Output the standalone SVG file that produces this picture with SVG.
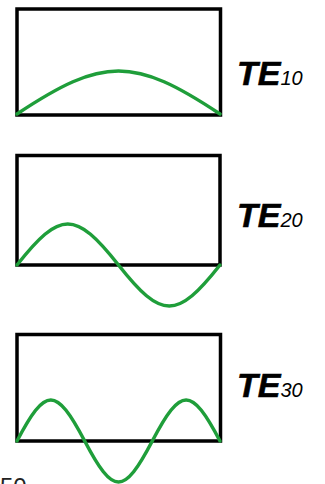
<svg xmlns="http://www.w3.org/2000/svg" width="325" height="484" viewBox="0 0 325 484">
<style>
.box{fill:none;stroke:#000;stroke-width:3.5}
.wave{fill:none;stroke:#1f9e3a;stroke-width:3.5;stroke-linecap:round}
.lbl{font-family:"Liberation Sans",Arial,sans-serif;font-style:italic;fill:#000}
.main{font-weight:bold;font-size:34px;stroke:#000;stroke-width:0.6}
.sub{font-weight:normal;font-size:20px}
</style>
<rect width="325" height="484" fill="#fff"/>
<g id="te10">
<rect class="box" x="17" y="9" width="203.5" height="106"/>
<path class="wave" d="M17,114 C103.2,56.7 133.8,56.7 220,114"/>
<text class="lbl" x="237" y="85"><tspan class="main">TE</tspan><tspan class="sub">10</tspan></text>
</g>
<g id="te20">
<rect class="box" x="17" y="155.5" width="203" height="109.5"/>
<path class="wave" d="M17,265 C60.1,210.3 75.4,210.3 118.5,265 C161.6,319.7 176.9,319.7 220,265"/>
<text class="lbl" x="237" y="227"><tspan class="main">TE</tspan><tspan class="sub">20</tspan></text>
</g>
<g id="te30">
<rect class="box" x="17" y="334.5" width="203.5" height="106.5"/>
<path class="wave" d="M17,441 C45.7,386.3 55.9,386.3 84.7,441 C113.4,495.7 123.6,495.7 152.3,441 C181,386.3 191.2,386.3 220,441"/>
<text class="lbl" x="237" y="397"><tspan class="main">TE</tspan><tspan class="sub">30</tspan></text>
</g>
<g id="connectors"></g>
<text x="0" y="495" font-family="Liberation Sans,Arial,sans-serif" font-size="24" fill="#222">50</text>
</svg>
